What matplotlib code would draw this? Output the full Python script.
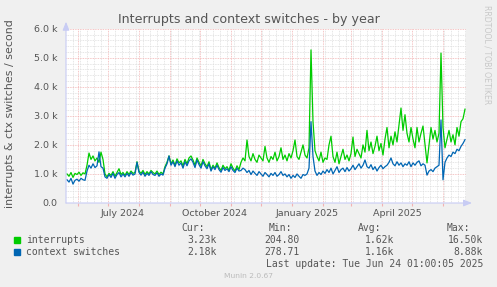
import numpy as np
import matplotlib
matplotlib.use("Agg")
import matplotlib.pyplot as plt
import matplotlib.dates as mdates
from matplotlib.ticker import MultipleLocator, FuncFormatter
from matplotlib.transforms import blended_transform_factory

# munin "by year" graph: 400 days ending at the last update
start = np.datetime64("2024-05-20T01:00")
end = np.datetime64("2025-06-24T01:00")

# values in thousands per second, one sample every 2 days
interrupts = [
    1.00, 0.92, 1.05, 0.88, 1.02, 0.98, 1.06, 0.95, 1.04, 1.00,
    1.30, 1.72, 1.50, 1.62, 1.45, 1.55, 1.40, 1.75, 1.50, 1.00,
    0.90, 1.02, 0.95, 1.08, 0.92, 1.05, 1.18, 0.98, 1.05, 0.95,
    1.08, 0.98, 1.10, 1.02, 1.05, 1.42, 1.10, 1.02, 1.12, 0.98,
    1.08, 1.00, 1.12, 1.05, 1.00, 1.10, 0.98, 1.06, 1.00, 1.25,
    1.40, 1.62, 1.35, 1.48, 1.30, 1.52, 1.38, 1.45, 1.28, 1.50,
    1.35, 1.55, 1.62, 1.48, 1.30, 1.55, 1.40, 1.28, 1.50, 1.35,
    1.25, 1.42, 1.15, 1.30, 1.20, 1.38, 1.22, 1.12, 1.30, 1.18,
    1.25, 1.12, 1.35, 1.20, 1.10, 1.28, 1.15, 1.40, 1.55, 1.45,
    2.17, 1.60, 1.45, 1.70, 1.50, 1.40, 1.65, 1.55, 1.45, 1.95,
    1.55, 1.40, 1.60, 1.50, 1.75, 1.45, 1.60, 1.90, 1.50, 1.65,
    1.45, 1.70, 1.55, 1.80, 2.17, 1.60, 1.50, 1.75, 2.00, 1.65,
    1.55, 1.90, 5.27, 2.80, 1.80, 1.60, 1.45, 1.75, 1.40, 1.55,
    1.50, 2.00, 2.30, 1.60, 1.40, 1.75, 1.35, 1.60, 1.85, 1.50,
    1.65, 1.45, 1.70, 2.27, 1.60, 1.85, 1.70, 1.55, 2.00, 1.75,
    2.50, 1.80, 2.10, 1.70, 1.95, 2.30, 1.80, 2.05, 1.65, 2.20,
    2.60, 1.90, 2.30, 2.00, 2.45, 2.10, 2.70, 3.27, 2.50, 3.04,
    2.40, 2.10, 2.60, 2.20, 1.90, 2.60, 2.10, 2.40, 2.65, 2.00,
    1.38, 2.00, 2.60, 2.20, 2.50, 2.10, 2.40, 5.16, 2.60, 1.90,
    2.20, 2.50, 2.10, 2.35, 2.00, 2.60, 2.30, 2.80, 2.90, 3.23,
]
context_switches = [
    0.80, 0.72, 0.85, 0.65, 0.78, 0.82, 0.75, 0.85, 0.80, 0.78,
    1.10, 1.30, 1.20, 1.35, 1.22, 1.28, 1.76, 1.25, 1.20, 0.90,
    0.85, 0.98, 0.88, 1.02, 0.85, 0.98, 1.05, 0.90, 1.00, 0.90,
    1.02, 0.92, 1.05, 0.96, 1.00, 1.40, 1.05, 0.96, 1.06, 0.92,
    1.02, 0.95, 1.08, 0.98, 0.95, 1.04, 0.92, 1.00, 0.96, 1.20,
    1.35, 1.62, 1.30, 1.42, 1.25, 1.45, 1.30, 1.38, 1.20, 1.42,
    1.28, 1.45, 1.52, 1.40, 1.22, 1.48, 1.32, 1.20, 1.42, 1.28,
    1.18, 1.35, 1.10, 1.25, 1.15, 1.30, 1.15, 1.06, 1.22, 1.12,
    1.18, 1.08, 1.25, 1.12, 1.05, 1.20, 1.10, 1.12, 1.20, 1.15,
    1.05, 1.12, 0.98, 1.10, 1.02, 0.95, 1.08, 1.00, 0.92, 1.05,
    0.98, 0.90, 1.02, 0.95, 1.05, 0.92, 0.98, 1.08, 0.95, 1.00,
    0.90, 0.98, 0.85, 0.95, 0.88, 1.00, 0.92, 0.85, 0.98, 0.95,
    1.00, 1.20, 2.80, 1.60, 1.10, 0.95, 1.05, 0.98, 1.10, 1.02,
    1.15, 1.05, 1.20, 1.00, 1.12, 1.25, 1.05, 1.15, 1.20, 1.08,
    1.22, 1.10, 1.18, 1.30, 1.15, 1.25, 1.35, 1.20, 1.30, 1.48,
    1.25, 1.20, 1.32, 1.15, 1.25, 1.10, 1.22, 1.30, 1.18, 1.25,
    1.30, 1.40, 1.55, 1.35, 1.28, 1.42, 1.30, 1.38, 1.25, 1.35,
    1.30, 1.42, 1.25, 1.38, 1.30, 1.40, 1.45, 1.28, 1.35, 1.30,
    0.96, 1.10, 1.15, 1.08, 1.20, 1.25, 1.30, 2.86, 0.80, 1.40,
    1.55, 1.65, 1.60, 1.75, 1.70, 1.85, 1.80, 1.95, 2.05, 2.18,
]
days = start + np.arange(1, 400, 2).astype("timedelta64[D]")

month_labels = ["July 2024", "October 2024", "January 2025", "April 2025"]
label_dates = np.array(["2024-07-16", "2024-10-16", "2025-01-16", "2025-04-16"],
                       dtype="datetime64[D]")

series_names = ["interrupts", "context switches"]
series_colors = ["#00CC00", "#0066B3"]
cur_vals = ["3.23k", "2.18k"]
min_vals = ["204.80", "278.71"]
avg_vals = ["1.62k", "1.16k"]
max_vals = ["16.50k", "8.88k"]

W, H = 497, 287
fig = plt.figure(figsize=(W / 100, H / 100), dpi=100, facecolor="#F0F0F0")
ax = fig.add_axes([66 / W, 1 - 203 / H, 400 / W, (203 - 28.7) / H])
ax.set_facecolor("white")

ax.plot(days, np.array(interrupts) * 1000, color=series_colors[0], lw=0.9, zorder=3)
ax.plot(days, np.array(context_switches) * 1000, color=series_colors[1], lw=0.9, zorder=4)

ax.set_xlim(start, end)
ax.set_ylim(0, 6000)

ax.xaxis.set_major_locator(mdates.MonthLocator())
ax.xaxis.set_minor_locator(mdates.WeekdayLocator(byweekday=mdates.MO))
ax.xaxis.set_major_formatter(plt.NullFormatter())
ax.yaxis.set_major_locator(MultipleLocator(1000))
ax.yaxis.set_minor_locator(MultipleLocator(200))
ax.yaxis.set_major_formatter(FuncFormatter(lambda v, p: "0.0" if v == 0 else "%.1f k" % (v / 1000)))

dots = (0, (1, 1))
ax.grid(which="minor", color="#DDDDDD", ls=dots, lw=0.6)
ax.grid(which="major", color="#F2B2B2", ls=dots, lw=0.6)
ax.set_axisbelow(True)
ax.tick_params(which="both", length=0, labelsize=6.8, labelcolor="#555555", pad=6)
ax.tick_params(axis="x", which="major", length=2, color="#F2B2B2", direction="out")
for s in ax.spines.values():
    s.set_visible(False)

# axes with arrows, rrdtool style
axis_col = "#C8CCF4"
ax.annotate("", xy=(406 / 400, 0), xytext=(0, 0), xycoords="axes fraction",
            arrowprops=dict(arrowstyle="-|>,head_width=0.2,head_length=0.5",
                            color=axis_col, lw=0.8, shrinkA=0, shrinkB=0), zorder=5)
ax.annotate("", xy=(0, 1.04), xytext=(0, 0), xycoords="axes fraction",
            arrowprops=dict(arrowstyle="-|>,head_width=0.2,head_length=0.5",
                            color=axis_col, lw=0.8, shrinkA=0, shrinkB=0), zorder=5)

tr = blended_transform_factory(ax.transData, ax.transAxes)
for d, lab in zip(label_dates, month_labels):
    ax.text(d, -0.035, lab, transform=tr, ha="center", va="top",
            fontsize=6.8, color="#555555")

fig.text(249 / W, 1 - 19 / H, "Interrupts and context switches - by year",
         ha="center", va="center", fontsize=9.1, color="#555555")
fig.text(10.5 / W, 1 - 114 / H, "interrupts & ctx switches / second", rotation=90,
         ha="center", va="center", fontsize=7.9, color="#555555")
fig.text(487 / W, 1 - 5 / H, "RRDTOOL / TOBI OETIKER", rotation=270,
         ha="center", va="top", fontsize=5.6, color="#C8C8C8")

mono = dict(family="DejaVu Sans Mono", fontsize=7, color="#555555", va="center")
heads = [("Cur:", 181), ("Min:", 269), ("Avg:", 358), ("Max:", 447)]
for h, x in heads:
    fig.text(x / W, 1 - 228 / H, h, ha="left", **mono)
rows_y = [240, 252]
for k in range(2):
    y = 1 - rows_y[k] / H
    fig.patches.append(plt.Rectangle((14 / W, y - 2.7 / H), 5.5 / W, 5.5 / H,
                                     transform=fig.transFigure,
                                     color=series_colors[k]))
    fig.text(26 / W, y, series_names[k], ha="left", **mono)
    for vals, xr in zip([cur_vals, min_vals, avg_vals, max_vals], [217, 300, 394, 483]):
        fig.text(xr / W, y, vals[k], ha="right", **mono)
fig.text(483 / W, 1 - 264 / H, "Last update: Tue Jun 24 01:00:05 2025", ha="right", **mono)
fig.text(249 / W, 1 - 276 / H, "Munin 2.0.67", ha="center", va="center",
         fontsize=5.4, color="#BBBBBB")

fig.savefig("out.png", dpi=100, facecolor=fig.get_facecolor())
